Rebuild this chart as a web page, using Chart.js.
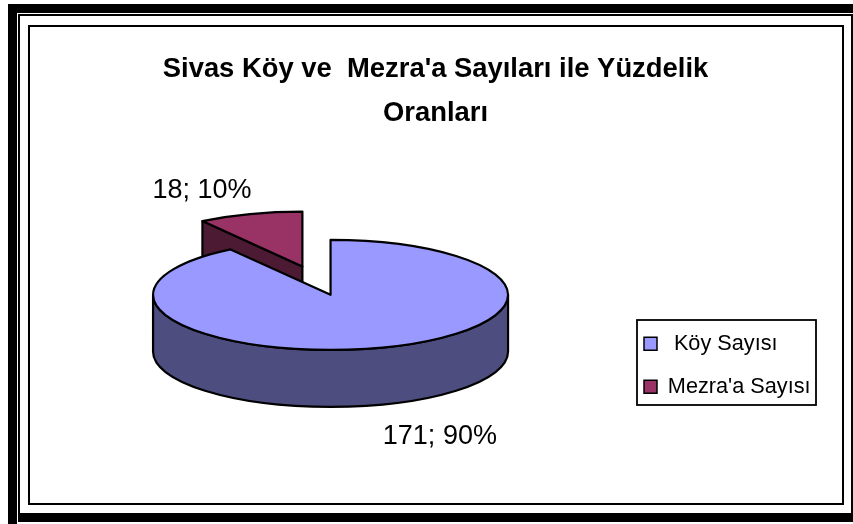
<!DOCTYPE html>
<html><head><meta charset="utf-8">
<style>html,body{margin:0;padding:0;background:#fff}canvas{display:block}</style>
<script src="https://cdn.jsdelivr.net/npm/chart.js@4/dist/chart.umd.js"></script>
</head><body>
<canvas id="c" width="853" height="524"></canvas>
<script>
const categories = [" Köy Sayısı", "Mezra'a Sayısı"];
const values = [171, 18];
const topColors = ["#9999FF", "#993366"];
const sideColors = ["#4D4D80", "#4D1A33"];
const titleLines = ["Sivas Köy ve  Mezra'a Sayıları ile Yüzdelik", "Oranları"];

const FONT = "'Liberation Sans', Arial, sans-serif";
const view = {rx: 177.5, ry: 55, depth: 57, lift: -35};
const labelNudge = [{x: 57, y: 32}, {x: -48, y: -23}];
const legendFrame = {x: 637, y: 320, w: 179, h: 85};

const pie3d = {
  id: 'pie3d',
  beforeDraw(chart) {
    const c = chart.ctx;
    c.save();
    c.fillStyle = '#000';
    c.fillRect(8, 4, 845, 9);      // heavy top
    c.fillRect(8, 4, 9, 520);      // heavy left
    c.fillRect(18, 513, 835, 9);   // heavy bottom
    c.fillRect(18, 14, 2, 499);    // fine left
    c.fillRect(18, 14, 835, 2);    // fine top
    c.fillRect(851, 14, 2, 499);   // fine right
    c.fillStyle = '#fff';
    c.fillRect(17, 522, 836, 1);
    c.fillStyle = '#000';
    c.fillRect(28, 25, 816, 2);
    c.fillRect(28, 503, 816, 2);
    c.fillRect(28, 25, 2, 480);
    c.fillRect(842, 25, 2, 480);
    c.restore();
  },
  afterLayout(chart) {
    const t = chart.titleBlock;
    t.left += 12;
    const l = chart.legend;
    const pad = l.options.labels.padding;
    const w = l.right - l.left, h = l.bottom - l.top;
    l.left = legendFrame.x + 7 - pad;
    l.right = l.left + w;
    l.top = 344 - pad - 11;
    l.bottom = l.top + h;
  },
  beforeDatasetsDraw(chart) {
    const c = chart.ctx;
    const arcs = chart.getDatasetMeta(0).data;
    const total = values.reduce((a, b) => a + b, 0);
    c.save();
    c.lineWidth = 2.2;
    c.strokeStyle = '#000';
    c.lineJoin = 'round';
    for (let i = arcs.length - 1; i >= 0; i--) {
      const a = arcs[i];
      const sx = view.rx / a.outerRadius, sy = view.ry / a.outerRadius;
      const mid = (a.startAngle + a.endAngle) / 2;
      const off = a.options.offset || 0;
      const cx = a.x + Math.cos(mid) * off * sx;
      const cy = a.y + view.lift + Math.sin(mid) * off * sy;
      const s = a.startAngle, e = a.endAngle;
      const edge = ang => {
        c.beginPath();
        c.moveTo(cx, cy);
        c.lineTo(cx + view.rx * Math.cos(ang), cy + view.ry * Math.sin(ang));
        c.lineTo(cx + view.rx * Math.cos(ang), cy + view.ry * Math.sin(ang) + view.depth);
        c.lineTo(cx, cy + view.depth);
        c.closePath();
        c.fillStyle = sideColors[i];
        c.fill(); c.stroke();
      };
      if (Math.cos(s) < -1e-6) edge(s);
      if (Math.cos(e) > 1e-6) edge(e);
      const a0 = Math.max(s, 0), a1 = Math.min(e, Math.PI);
      if (a1 > a0) {
        c.beginPath();
        c.ellipse(cx, cy, view.rx, view.ry, 0, a0, a1);
        c.ellipse(cx, cy + view.depth, view.rx, view.ry, 0, a1, a0, true);
        c.closePath();
        c.fillStyle = sideColors[i];
        c.fill(); c.stroke();
      }
      c.beginPath();
      c.moveTo(cx, cy);
      c.ellipse(cx, cy, view.rx, view.ry, 0, s, e);
      c.closePath();
      c.fillStyle = a.options.backgroundColor;
      c.fill(); c.stroke();

      const front = Math.sin(mid) > 0 ? view.depth : 0;
      const lx = cx + view.rx * Math.cos(mid) + labelNudge[i].x;
      const ly = cy + view.ry * Math.sin(mid) + front + labelNudge[i].y;
      c.fillStyle = '#000';
      c.font = '27px ' + FONT;
      c.textAlign = 'center';
      c.textBaseline = 'middle';
      c.fillText(values[i] + '; ' + Math.round(values[i] / total * 100) + '%', lx, ly);
    }
    c.restore();
    return false;
  },
  afterDraw(chart) {
    const c = chart.ctx;
    c.save();
    c.strokeStyle = '#000';
    c.lineWidth = 1.8;
    c.strokeRect(legendFrame.x, legendFrame.y, legendFrame.w, legendFrame.h);
    c.restore();
  }
};

Chart.defaults.color = '#000';
Chart.defaults.font.family = FONT;

new Chart(document.getElementById('c'), {
  type: 'pie',
  data: {
    labels: categories,
    datasets: [{
      data: values,
      backgroundColor: topColors,
      borderColor: '#000',
      borderWidth: 1.5,
      offset: [0, 82]
    }]
  },
  plugins: [pie3d],
  options: {
    responsive: false,
    animation: false,
    layout: {padding: {left: 6, right: 0, top: 0, bottom: 0}},
    plugins: {
      tooltip: {enabled: false},
      title: {
        display: true,
        text: titleLines,
        color: '#000',
        font: {size: 27.4, weight: 'bold', family: FONT, lineHeight: 1.6},
        padding: {top: 48, bottom: 0}
      },
      legend: {
        position: 'right',
        align: 'start',
        labels: {
          boxWidth: 13, boxHeight: 13, padding: 21.3,
          color: '#000',
          font: {size: 21.7, family: FONT}
        }
      }
    }
  }
});
</script>
</body></html>
